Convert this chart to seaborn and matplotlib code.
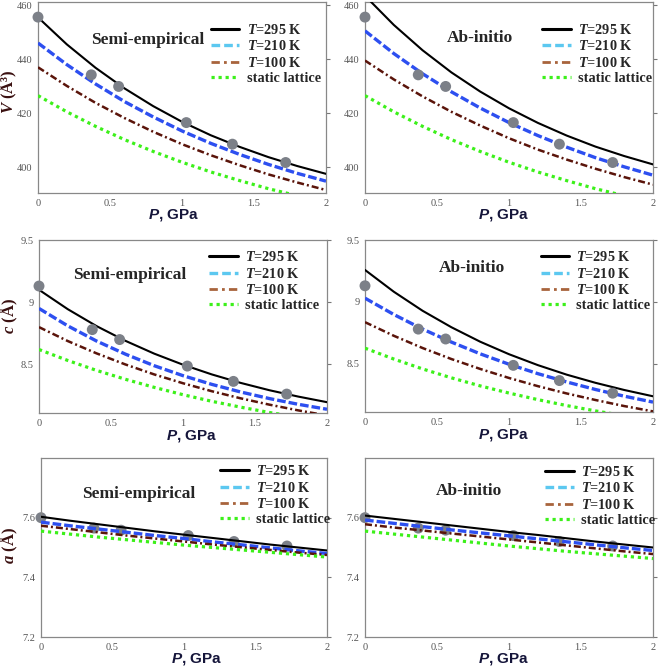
import numpy as np
import pandas as pd
import seaborn as sns
import matplotlib.pyplot as plt
from matplotlib.lines import Line2D

# pressure grid (GPa) at which the curves were read
P = [0, 0.2, 0.4, 0.6, 0.8, 1.0, 1.2, 1.4, 1.6, 1.8, 2.0]

# experimental points (same in both columns)
P_exp = [0, 0.37, 0.56, 1.03, 1.35, 1.72]
V_exp = [455.6, 434.2, 429.9, 416.5, 408.5, 401.7]
c_exp = [9.13, 8.78, 8.70, 8.487, 8.364, 8.262]
a_exp = [7.60, 7.565, 7.558, 7.54, 7.52, 7.505]

# semi-empirical
V_semi_295 = [455.5, 445.5, 436.8, 429.2, 422.6, 416.8, 411.8, 407.5, 403.7, 400.4, 397.5]
V_semi_210 = [446.0, 438.0, 430.8, 424.3, 418.6, 413.4, 408.8, 404.7, 401.0, 397.7, 394.8]
V_semi_100 = [437.0, 430.1, 423.8, 418.2, 413.1, 408.5, 404.4, 400.7, 397.3, 394.3, 391.5]
V_semi_static = [426.5, 420.5, 415.1, 410.2, 405.8, 401.8, 398.2, 395.0, 392.0, 389.4, 387.0]

c_semi_295 = [9.100, 8.944, 8.808, 8.690, 8.587, 8.498, 8.420, 8.352, 8.293, 8.242, 8.197]
c_semi_210 = [8.950, 8.810, 8.688, 8.583, 8.490, 8.410, 8.340, 8.279, 8.226, 8.180, 8.140]
c_semi_100 = [8.800, 8.688, 8.589, 8.500, 8.420, 8.349, 8.285, 8.228, 8.177, 8.131, 8.090]
c_semi_static = [8.620, 8.532, 8.452, 8.381, 8.316, 8.257, 8.204, 8.157, 8.114, 8.077, 8.040]

a_semi_295 = [7.603, 7.590, 7.578, 7.566, 7.554, 7.543, 7.532, 7.521, 7.510, 7.500, 7.490]
a_semi_210 = [7.585, 7.573, 7.562, 7.551, 7.540, 7.530, 7.519, 7.509, 7.499, 7.489, 7.480]
a_semi_100 = [7.573, 7.562, 7.551, 7.540, 7.530, 7.520, 7.510, 7.501, 7.492, 7.483, 7.475]
a_semi_static = [7.555, 7.545, 7.535, 7.526, 7.517, 7.508, 7.500, 7.492, 7.484, 7.476, 7.468]

# ab-initio
V_ab_295 = [463.5, 452.7, 443.3, 435.1, 428.0, 421.8, 416.4, 411.7, 407.6, 404.1, 401.0]
V_ab_210 = [450.5, 442.1, 434.6, 427.9, 421.9, 416.5, 411.7, 407.4, 403.5, 400.1, 397.0]
V_ab_100 = [439.5, 432.5, 426.2, 420.5, 415.4, 410.7, 406.5, 402.8, 399.4, 396.3, 393.5]
V_ab_static = [426.5, 420.5, 415.1, 410.2, 405.8, 401.8, 398.2, 395.0, 392.0, 389.4, 387.0]

c_ab_295 = [9.258, 9.082, 8.928, 8.795, 8.678, 8.577, 8.489, 8.412, 8.346, 8.288, 8.237]
c_ab_210 = [9.030, 8.898, 8.780, 8.675, 8.580, 8.496, 8.420, 8.353, 8.292, 8.238, 8.190]
c_ab_100 = [8.836, 8.726, 8.627, 8.538, 8.458, 8.385, 8.319, 8.260, 8.207, 8.158, 8.115]
c_ab_static = [8.626, 8.538, 8.458, 8.386, 8.321, 8.263, 8.210, 8.162, 8.119, 8.080, 8.045]

a_ab_295 = [7.607, 7.596, 7.585, 7.574, 7.563, 7.552, 7.542, 7.531, 7.520, 7.510, 7.500]
a_ab_210 = [7.592, 7.581, 7.570, 7.559, 7.549, 7.539, 7.529, 7.519, 7.509, 7.499, 7.490]
a_ab_100 = [7.578, 7.567, 7.557, 7.547, 7.537, 7.527, 7.517, 7.507, 7.497, 7.487, 7.478]
a_ab_static = [7.555, 7.545, 7.535, 7.525, 7.515, 7.505, 7.496, 7.487, 7.479, 7.471, 7.463]

labels = ["$T$=295 K", "$T$=210 K", "$T$=100 K", "static lattice"]
x_ticks = [0, 0.5, 1, 1.5, 2]
x_ticklabels = ["0", "0.5", "1", "1.5", "2"]

sns.set_style("white")
plt.rcParams["font.family"] = ["Liberation Serif", "DejaVu Serif"]
plt.rcParams["mathtext.fontset"] = "custom"
plt.rcParams["mathtext.rm"] = "Liberation Serif:bold"
plt.rcParams["mathtext.it"] = "Liberation Serif:italic:bold"
plt.rcParams["mathtext.sf"] = "Liberation Sans:italic:bold"

line_styles = [
    dict(color="black", linestyle="-", linewidth=1.5),
    dict(color="#2d4ff0", linestyle=(0, (2.6, 0.9)), linewidth=2.4),
    dict(color="#5a140a", linestyle=(0, (2.8, 1.2, 0.8, 1.2)), linewidth=1.8),
    dict(color="#3cf01a", linestyle=(0, (1, 1.2)), linewidth=2.3),
]
legend_styles = [
    dict(color="black", linestyle="-", linewidth=2.2),
    dict(color="#5cc8f0", linestyle=(0, (2.6, 1.2)), linewidth=2.4),
    dict(color="#a8643c", linestyle=(0, (3, 1.5, 1, 1.5)), linewidth=2.0),
    dict(color="#3cf01a", linestyle=(0, (1, 1.2)), linewidth=2.3),
]

panels = [
    # pixel box (left, top, right, bottom), series, exp, ylim, yticks, yticklabels, ylabel, ylabel_xy,
    # title, title_xy, legend_xy, xlabel_xy
    ((38, 2, 326, 193), [V_semi_295, V_semi_210, V_semi_100, V_semi_static], V_exp, (390.4, 461.2),
     [400, 420, 440, 460], ["400", "420", "440", "460"], "$V$ (Å³)", (-0.066, 0.53),
     "Semi-empirical", (0.38, 0.80), (0.60, 0.89), (0.47, -0.075)),
    ((365, 2, 653, 193), [V_ab_295, V_ab_210, V_ab_100, V_ab_static], V_exp, (390.4, 461.2),
     [400, 420, 440, 460], ["400", "420", "440", "460"], None, None,
     "Ab-initio", (0.40, 0.81), (0.615, 0.89), (0.48, -0.075)),
    ((39, 240, 327, 413), [c_semi_295, c_semi_210, c_semi_100, c_semi_static], c_exp, (8.11, 9.5),
     [8.5, 9, 9.5], ["8.5", "9", "9.5"], "$c$ (Å)", (-0.066, 0.56),
     "Semi-empirical", (0.316, 0.80), (0.59, 0.94), (0.53, -0.085)),
    ((365, 240, 653, 412), [c_ab_295, c_ab_210, c_ab_100, c_ab_static], c_exp, (8.11, 9.5),
     [8.5, 9, 9.5], ["8.5", "9", "9.5"], None, None,
     "Ab-initio", (0.37, 0.84), (0.61, 0.94), (0.48, -0.085)),
    ((41, 458, 327, 637), [a_semi_295, a_semi_210, a_semi_100, a_semi_static], a_exp, (7.2, 7.8),
     [7.2, 7.4, 7.6], ["7.2", "7.4", "7.6"], "$a$ (Å)", (-0.073, 0.51),
     "Semi-empirical", (0.343, 0.80), (0.626, 0.965), (0.545, -0.078)),
    ((365, 458, 653, 637), [a_ab_295, a_ab_210, a_ab_100, a_ab_static], a_exp, (7.2, 7.8),
     [7.2, 7.4, 7.6], ["7.2", "7.4", "7.6"], None, None,
     "Ab-initio", (0.36, 0.815), (0.625, 0.96), (0.48, -0.078)),
]

W, H = 661, 667
fig = plt.figure(figsize=(W / 100, H / 100), dpi=100)

for i, (box, series, exp, ylim, yticks, yticklabels, ylabel, ylabel_xy,
        title, title_xy, leg_xy, xlabel_xy) in enumerate(panels):
    l, t, r, b = box
    ax = fig.add_axes([l / W, (H - b) / H, (r - l) / W, (b - t) / H])
    for vals, st in zip(series, line_styles):
        sns.lineplot(x=P, y=vals, ax=ax, zorder=3, **st)
    # points sit on top of the curves in V and c, under them in a
    pz = 2 if i >= 4 else 5
    sns.scatterplot(x=P_exp, y=exp, ax=ax, color="#7c8088", s=62, edgecolor="none",
                    zorder=pz, clip_on=False)
    ax.set_xlim(0, 2)
    ax.set_ylim(*ylim)
    ax.set_xticks(x_ticks)
    ax.set_xticklabels(x_ticklabels)
    ax.set_yticks(yticks)
    ax.set_yticklabels(yticklabels)
    ax.tick_params(axis="both", labelsize=7.5, labelcolor="#555555", direction="out",
                   length=3, width=0.8, color="#777777", pad=1)
    ax.tick_params(axis="y", right=True)
    for sp in ax.spines.values():
        sp.set_color("#888888")
        sp.set_linewidth(0.9)
    ax.set_xlabel(r"$\mathsf{P}$, GPa", family="Liberation Sans", fontweight="bold",
                  fontsize=11, color="#15153a")
    ax.xaxis.set_label_coords(*xlabel_xy)
    if ylabel:
        ax.set_ylabel(ylabel, fontweight="bold", fontsize=12, color="#3a1010")
        ax.yaxis.set_label_coords(*ylabel_xy)
    else:
        ax.set_ylabel("")
    ax.text(title_xy[0], title_xy[1], title, transform=ax.transAxes, ha="center", va="center",
            fontsize=12.5, fontweight="bold")
    handles = [Line2D([], [], **st) for st in legend_styles]
    ax.legend(handles, labels, loc="upper left", bbox_to_anchor=leg_xy, frameon=False,
              prop={"weight": "bold", "size": 10.3}, borderpad=0, borderaxespad=0,
              handlelength=2.0, handletextpad=0.5, labelspacing=0.16)

fig.savefig("out.png", dpi=100)
